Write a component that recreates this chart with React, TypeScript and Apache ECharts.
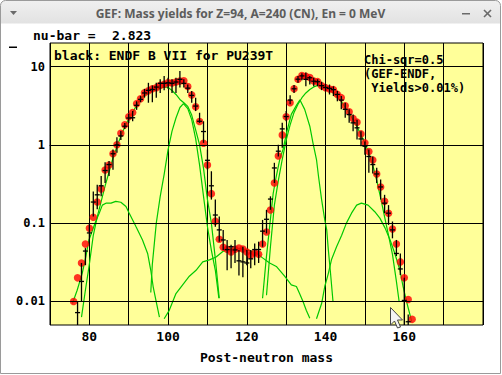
import React, { useEffect, useRef } from "react";
import * as echarts from "echarts";

// ---- axis ranges / ticks ----
const X_MIN = 70;
const X_MAX = 180;
const Y_MIN = 0.005;
const Y_MAX = 20;
const xLabelValues = [80, 100, 120, 140, 160];
const yGridValues = [0.01, 0.1, 1, 10];
const yGridLabels = ["0.01", "0.1", "1", "10"];

// ---- GEF yields (red dots): [mass, yield %] ----
const gefYield: number[][] = [
  [76, 0.010], [77, 0.020], [78, 0.031], [79, 0.054], [80, 0.086], [81, 0.119], [82, 0.186],
  [83, 0.273], [84, 0.477], [85, 0.554], [86, 0.77], [87, 1.0], [88, 1.41], [89, 1.8],
  [90, 2.28], [91, 2.59], [92, 3.36], [93, 3.89], [94, 4.64], [95, 4.92], [96, 5.22],
  [97, 5.38], [98, 5.75], [99, 5.93], [100, 6.23], [101, 6.16], [102, 6.35], [103, 6.53],
  [104, 6.6], [105, 5.55], [106, 4.33], [107, 3.07], [108, 1.99], [109, 1.05], [110, 0.554],
  [111, 0.238], [112, 0.106], [113, 0.0624], [114, 0.0492], [115, 0.0464], [116, 0.0429],
  [117, 0.0464], [118, 0.0482], [119, 0.0468], [120, 0.0429], [121, 0.039], [122, 0.042],
  [123, 0.040], [124, 0.054], [125, 0.077], [126, 0.147], [127, 0.326], [128, 0.72],
  [129, 1.34], [130, 2.28], [131, 3.45], [132, 5.22], [133, 6.87], [134, 7.67], [135, 7.52],
  [136, 7.23], [137, 6.53], [138, 6.42], [139, 5.7], [140, 5.38], [141, 5.16], [142, 5.07],
  [143, 4.41], [144, 4.01], [145, 3.16], [146, 2.65], [147, 2.17], [148, 1.95], [149, 1.38],
  [150, 1.06], [151, 0.82], [152, 0.64], [153, 0.425], [154, 0.29], [155, 0.19], [156, 0.134],
  [157, 0.084], [158, 0.054], [159, 0.032], [160, 0.020], [161, 0.0106], [162, 0.0059],
];

// ---- ENDF/B-VII (black error bars): [mass, value, low, high] ----
const endfData: number[][] = [
  [77, 0.0072, 0.004, 0.010], [78, 0.018, 0.010, 0.031], [79, 0.044, 0.029, 0.048],
  [80, 0.075, 0.055, 0.10], [81, 0.186, 0.122, 0.254], [82, 0.23, 0.151, 0.31],
  [83, 0.30, 0.22, 0.40], [84, 0.47, 0.326, 0.60], [85, 0.56, 0.40, 0.62],
  [86, 0.77, 0.48, 0.87], [87, 1.0, 0.79, 1.25], [88, 1.30, 1.15, 1.50],
  [89, 1.73, 1.6, 1.9], [90, 2.2, 1.9, 2.5], [91, 2.22, 2.0, 2.7], [92, 3.2, 2.8, 3.6],
  [93, 3.81, 3.5, 4.2], [94, 4.6, 4.0, 5.2], [95, 4.97, 3.45, 6.2], [96, 5.1, 3.5, 5.75],
  [97, 5.47, 4.0, 6.2], [98, 6.1, 4.6, 6.9], [99, 6.1, 5.0, 7.6], [100, 6.2, 5.2, 7.2],
  [101, 6.1, 4.6, 6.9], [102, 6.35, 4.6, 7.2], [103, 6.87, 5.4, 8.8], [104, 6.1, 5.4, 6.9],
  [105, 5.3, 4.6, 5.9], [106, 4.28, 3.45, 4.86], [107, 3.13, 2.7, 4.0], [108, 2.0, 1.91, 2.57],
  [109, 1.48, 1.06, 2.0], [110, 0.635, 0.48, 0.87], [111, 0.30, 0.20, 0.46],
  [112, 0.127, 0.09, 0.20], [113, 0.082, 0.058, 0.122], [114, 0.061, 0.0455, 0.082],
  [115, 0.046, 0.025, 0.061], [116, 0.050, 0.0265, 0.053], [117, 0.0455, 0.031, 0.061],
  [118, 0.033, 0.0215, 0.0455], [119, 0.032, 0.0204, 0.050], [120, 0.031, 0.029, 0.0455],
  [121, 0.035, 0.0265, 0.0455], [122, 0.046, 0.029, 0.055], [123, 0.046, 0.031, 0.058],
  [124, 0.079, 0.050, 0.11], [125, 0.112, 0.074, 0.148], [126, 0.203, 0.148, 0.22],
  [127, 0.507, 0.326, 0.59], [128, 0.83, 0.71, 1.0], [129, 1.6, 0.92, 1.91],
  [130, 2.3, 2.0, 2.7], [131, 3.73, 3.3, 4.3], [132, 5.2, 4.6, 5.8], [133, 6.9, 6.2, 7.6],
  [134, 7.6, 6.7, 8.2], [135, 6.87, 5.6, 8.4], [136, 7.2, 5.9, 7.6], [137, 6.5, 5.6, 7.2],
  [138, 6.4, 5.6, 6.9], [139, 5.7, 5.0, 6.4], [140, 5.4, 4.8, 6.0], [141, 5.27, 4.4, 5.9],
  [142, 5.07, 4.2, 5.6], [143, 4.41, 3.6, 4.9], [144, 3.73, 2.84, 4.2], [145, 2.84, 2.22, 3.45],
  [146, 2.44, 1.91, 2.84], [147, 1.91, 1.49, 2.44], [148, 1.65, 1.17, 2.1], [149, 1.19, 0.96, 1.49],
  [150, 0.96, 0.75, 1.1], [151, 0.71, 0.44, 0.87], [152, 0.56, 0.43, 0.71],
  [153, 0.425, 0.326, 0.51], [154, 0.29, 0.20, 0.36], [155, 0.18, 0.134, 0.23],
  [156, 0.134, 0.095, 0.17], [157, 0.082, 0.064, 0.105], [158, 0.041, 0.038, 0.061],
  [159, 0.026, 0.0217, 0.041], [160, 0.0103, 0.004, 0.02], [161, 0.0055, 0.004, 0.0068],
];

// ---- GEF fission-mode components (green lines): [mass, yield %] ----
const s3Light: number[][] = [
  [75.7, 0.0094], [76.9, 0.0139], [78.2, 0.023], [79.1, 0.037], [79.9, 0.061], [81.6, 0.105],
  [82.5, 0.134], [83.3, 0.17], [84.2, 0.18], [85.5, 0.18], [86.7, 0.19], [88, 0.185],
  [89.3, 0.163], [90.1, 0.135], [91, 0.11], [91.8, 0.091], [93.5, 0.061], [94.8, 0.041],
  [95.6, 0.025], [96.2, 0.0155], [96.9, 0.0104], [97.8, 0.0063],
];
const s2Light: number[][] = [
  [78, 0.0063], [79, 0.014], [80, 0.03], [81, 0.07], [82, 0.12], [83, 0.19], [84, 0.3],
  [85, 0.45], [86, 0.68], [87, 0.95], [88, 1.29], [89, 1.7], [90, 2.15], [91, 2.6], [92, 3.2],
  [93, 3.9], [94, 4.3], [95, 4.6], [96, 4.9], [97, 5.1], [98, 5.3], [99, 5.5], [100, 5.4],
  [101, 4.95], [102, 4.4], [103, 3.8], [104, 3.45], [105, 3.1], [106, 2.4], [107, 1.55],
  [108, 1.0], [109, 0.5], [110, 0.2], [111, 0.1], [112, 0.035], [113, 0.011],
];
const s1Light: number[][] = [
  [95.6, 0.013], [96, 0.03], [97, 0.1], [98, 0.22], [99, 0.42], [100, 0.87], [101, 1.5],
  [102, 2.2], [103, 3.0], [103.9, 3.36], [105, 2.9], [106, 2.1], [107, 1.2], [108, 0.55],
  [109, 0.22], [110, 0.09], [111, 0.045], [112, 0.025], [112.9, 0.011],
];
const slMode: number[][] = [
  [99, 0.006], [100.3, 0.0077], [102, 0.0126], [103.7, 0.0163], [105.4, 0.021], [107.1, 0.025],
  [108.8, 0.032], [110.5, 0.034], [112.2, 0.037], [113.9, 0.0435], [115.6, 0.046],
  [117.3, 0.048], [119.8, 0.046], [122.4, 0.0415], [124, 0.036], [125.8, 0.031],
  [127.5, 0.028], [129.6, 0.021], [131.3, 0.0163], [132.6, 0.0155], [133.4, 0.0126],
  [134.3, 0.0099], [135.1, 0.0077], [136, 0.0061],
];
const s1Heavy: number[][] = [
  [124, 0.011], [124.9, 0.034], [125.8, 0.091], [126.7, 0.24], [127.5, 0.4], [128.5, 0.7],
  [129.2, 0.87], [130.1, 1.43], [131.3, 2.45], [132.6, 3.2], [133.5, 3.75], [134.7, 2.84],
  [136, 1.73], [136.8, 1.06], [137.7, 0.65], [138.2, 0.4], [139, 0.2], [139.8, 0.11],
  [140.3, 0.082], [140.7, 0.046], [141.2, 0.025], [141.9, 0.0099],
];
const s2Heavy: number[][] = [
  [125, 0.012], [126, 0.05], [127, 0.17], [128, 0.35], [129, 0.65], [130, 1.15], [131, 1.8],
  [132, 2.6], [133, 3.3], [134, 4.0], [135, 4.6], [136, 5.1], [137, 5.5], [138, 5.75],
  [139, 5.7], [140, 5.4], [141, 5.05], [142, 4.6], [143, 4.1], [144, 3.6], [145, 3.0],
  [146, 2.5], [147, 2.1], [148, 1.7], [149, 1.35], [150, 1.05], [151, 0.78], [152, 0.55],
  [153, 0.35], [154, 0.21], [155, 0.12], [156, 0.07], [157, 0.04], [158, 0.018], [158.7, 0.0099],
];
const s3Heavy: number[][] = [
  [137.7, 0.006], [139, 0.0094], [139.8, 0.0155], [140.7, 0.0227], [141.5, 0.034],
  [142.8, 0.05], [144.1, 0.07], [145.3, 0.1], [146.6, 0.134], [147.9, 0.17], [149.1, 0.18],
  [150.8, 0.17], [152.5, 0.14], [153.8, 0.116], [155.1, 0.087], [156.4, 0.061],
  [157.6, 0.041], [158.9, 0.025], [159.7, 0.0155], [160.6, 0.0099], [161.9, 0.0055],
];

const L = (v: number) => Math.log10(v);
const MONO = "'DejaVu Sans Mono', monospace";

export default function App() {
  const ref = useRef<HTMLDivElement>(null);
  useEffect(() => {
    if (!ref.current) return;
    const chart = echarts.init(ref.current, undefined, { renderer: "svg" });
    const yMinL = L(Y_MIN);
    const yMaxL = L(Y_MAX);
    const green = "#00c800";
    const lineSeries = (data: number[][]) => ({
      type: "line",
      data: data.map((d) => [d[0], L(d[1])]),
      showSymbol: false,
      symbol: "none",
      lineStyle: { color: green, width: 1.2 },
      z: 3,
      silent: true,
    });
    const option: any = {
      animation: false,
      backgroundColor: "#ffffff",
      grid: {
        left: 50, top: 43, width: 433, height: 282,
        show: true, backgroundColor: "#ffff99", borderColor: "#000", borderWidth: 1,
      },
      xAxis: {
        type: "value", min: X_MIN, max: X_MAX, interval: 10,
        axisLine: { show: true, lineStyle: { color: "#000", width: 1 } },
        axisTick: { show: false },
        splitLine: { show: true, lineStyle: { color: "#000", width: 1 } },
        axisLabel: {
          margin: 5, color: "#000", fontFamily: MONO, fontWeight: "bold", fontSize: 13,
          formatter: (v: number) => (xLabelValues.indexOf(v) >= 0 ? String(v) : ""),
        },
        name: "Post-neutron mass", nameLocation: "middle", nameGap: 26,
        nameTextStyle: { color: "#000", fontFamily: MONO, fontWeight: "bold", fontSize: 13 },
      },
      yAxis: {
        type: "value", min: yMinL, max: yMaxL,
        axisLine: { show: false }, axisTick: { show: false },
        splitLine: { show: false }, axisLabel: { show: false },
      },
      series: [
        {
          type: "line", data: [[X_MIN, yMinL]], showSymbol: false, symbol: "none",
          lineStyle: { width: 0 }, z: 1, silent: true,
          markLine: {
            silent: true, symbol: ["none", "none"], animation: false,
            lineStyle: { color: "#000", width: 1, type: "solid" },
            label: {
              show: true, position: "start", distance: 5, color: "#000",
              fontFamily: MONO, fontWeight: "bold", fontSize: 12,
              formatter: (p: any) => yGridLabels[p.dataIndex],
            },
            data: yGridValues.map((v) => ({ yAxis: L(v) })),
          },
        },
        lineSeries(s3Light), lineSeries(s2Light), lineSeries(s1Light), lineSeries(slMode),
        lineSeries(s1Heavy), lineSeries(s2Heavy), lineSeries(s3Heavy),
        {
          type: "scatter", data: gefYield.map((d) => [d[0], L(d[1])]),
          symbol: "circle", symbolSize: 7.5, itemStyle: { color: "#ff0000" }, z: 4, silent: true,
        },
        {
          type: "custom", z: 5, silent: true,
          data: endfData.map((d) => [d[0], L(d[1]), L(d[2]), L(d[3])]),
          renderItem: (_p: any, api: any) => {
            const x = api.value(0);
            const v = api.value(1);
            const lo = Math.max(api.value(2), yMinL);
            const hi = Math.min(api.value(3), yMaxL);
            const a = api.coord([x, hi]);
            const b = api.coord([x, lo]);
            const c = api.coord([x, v]);
            return {
              type: "group",
              children: [
                { type: "line", shape: { x1: a[0], y1: a[1], x2: b[0], y2: b[1] }, style: { stroke: "#000", lineWidth: 1.3 } },
                { type: "line", shape: { x1: c[0] - 2.5, y1: c[1], x2: c[0] + 2.5, y2: c[1] }, style: { stroke: "#000", lineWidth: 1.3 } },
              ],
            };
          },
        },
      ],
      graphic: [
        // window frame and title bar
        { type: "rect", z: -10, shape: { x: 0.5, y: 0.5, width: 500, height: 23, r: [5, 5, 0, 0] },
          style: { fill: new echarts.graphic.LinearGradient(0, 0, 0, 1, [{ offset: 0, color: "#f0f0f0" }, { offset: 1, color: "#e2e2e2" }]), stroke: "none" } },
        { type: "rect", z: 50, shape: { x: 0.5, y: 0.5, width: 500, height: 373, r: [5, 5, 0, 0] },
          style: { fill: "none", stroke: "#9a9a9a", lineWidth: 1 } },
        { type: "text", z: 50, x: 240.5, y: 13.5,
          style: { text: "GEF: Mass yields for Z=94, A=240 (CN), En = 0 MeV", fill: "#5c5c5c",
            font: "bold 12px 'Noto Sans', sans-serif", align: "center", verticalAlign: "middle" } },
        { type: "polygon", z: 50, shape: { points: [[10, 11], [17, 11], [13.5, 15]] }, style: { fill: "#6a6a6a" } },
        { type: "rect", z: 50, shape: { x: 462, y: 13, width: 8, height: 1.5 }, style: { fill: "#6a6a6a" } },
        { type: "line", z: 50, shape: { x1: 484, y1: 10, x2: 491, y2: 17 }, style: { stroke: "#6a6a6a", lineWidth: 1.6 } },
        { type: "line", z: 50, shape: { x1: 491, y1: 10, x2: 484, y2: 17 }, style: { stroke: "#6a6a6a", lineWidth: 1.6 } },
        // annotations
        { type: "text", z: 50, x: 33, y: 35, style: { text: "nu-bar =", fill: "#000", font: `bold 13px ${MONO}`, verticalAlign: "middle" } },
        { type: "text", z: 50, x: 112, y: 35, style: { text: "2.823", fill: "#000", font: `bold 13px ${MONO}`, verticalAlign: "middle" } },
        { type: "rect", z: 50, shape: { x: 9, y: 46.5, width: 8, height: 1.5 }, style: { fill: "#000" } },
        { type: "text", z: 50, x: 54, y: 55, style: { text: "black: ENDF B VII for PU239T", fill: "#000", font: `bold 13px ${MONO}`, verticalAlign: "middle" } },
        { type: "text", z: 50, x: 364, y: 53, style: { text: "Chi-sqr=0.5\n(GEF-ENDF,\n Yields>0.01%)", fill: "#000", font: `bold 12px ${MONO}`, lineHeight: 14, verticalAlign: "top" } },
        // mouse pointer
        { type: "polygon", z: 60, shape: { points: [[390.5, 307.5], [390.5, 325], [394.5, 321], [397.5, 328], [400.5, 327], [397.5, 320], [402.5, 320]] },
          style: { fill: "#f4f4f4", stroke: "#444", lineWidth: 1 } },
      ],
    };
    chart.setOption(option);
    return () => chart.dispose();
  }, []);
  return (
    <div
      ref={ref}
      style={{ position: "fixed", left: 0, top: 0, width: 502, height: 375, background: "#fff" }}
    />
  );
}
